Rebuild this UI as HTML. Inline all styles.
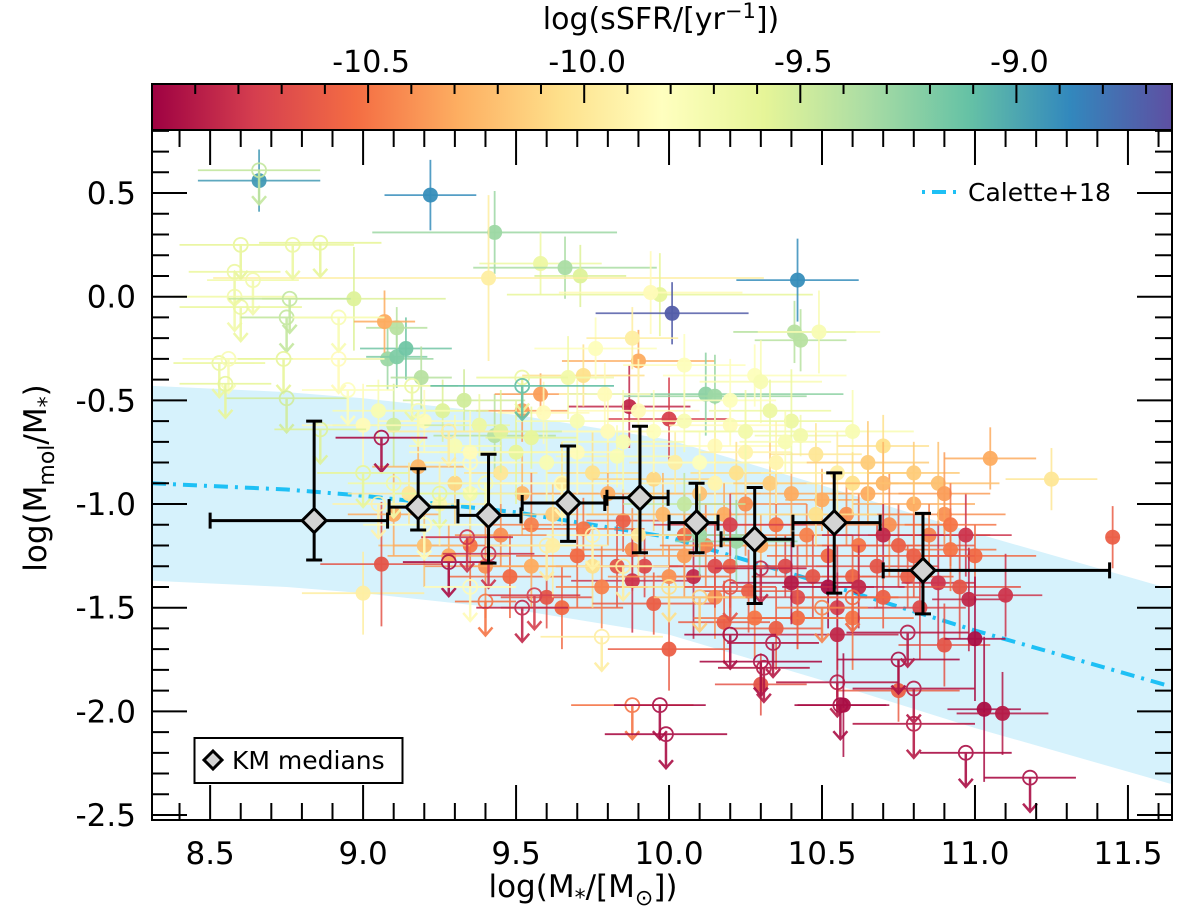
<!DOCTYPE html>
<html><head><meta charset="utf-8">
<style>
html,body{margin:0;padding:0;background:#fff;}
svg{display:block;font-family:"DejaVu Sans","Liberation Sans",sans-serif;}
</style></head>
<body>
<svg id="chart" width="1200" height="913" viewBox="0 0 1200 913" xmlns="http://www.w3.org/2000/svg">
<defs>
<linearGradient id="spectral" x1="0" x2="1" y1="0" y2="0">
<stop offset="0" stop-color="#9e0142"/><stop offset="0.1" stop-color="#d53e4f"/><stop offset="0.2" stop-color="#f46d43"/><stop offset="0.3" stop-color="#fdae61"/><stop offset="0.4" stop-color="#fee08b"/><stop offset="0.5" stop-color="#ffffbf"/><stop offset="0.6" stop-color="#e6f598"/><stop offset="0.7" stop-color="#abdda4"/><stop offset="0.8" stop-color="#66c2a5"/><stop offset="0.9" stop-color="#3288bd"/><stop offset="1" stop-color="#5e4fa2"/>
</linearGradient>
<clipPath id="plotclip"><rect x="152" y="130" width="1020" height="690"/></clipPath>
</defs>
<g id="cbar"></g>
<g id="plot"></g>
<g id="axes"></g>
</svg>
<script>
// ---- data ----
const detX = [8.66,9.22,9.43,9.58,9.66,9.71,9.41,9.97,9.94,10.01,10.42,10.41,10.43,10.49,9.9,8.97,9.08,9.11,9.14,9.11,9.07,9.19,9.43,9.52,9.58,9.87,10.0,10.12,10.15,9.72,9.76,9.88,10.05,10.28,10.3,10.33,9.67,9.59,9.79,9.83,10.2,10.43,10.48,10.6,10.7,11.05,11.25,11.45,10.15,9.33,9.26,9.2,9.38,9.1,9.05,9.0,
9.18,9.3,9.45,9.52,9.55,9.62,9.65,9.72,9.75,9.8,9.85,9.88,9.92,9.95,9.98,10.02,10.05,10.08,10.1,10.12,10.15,10.18,10.2,10.22,10.25,10.26,10.3,10.33,10.35,10.38,10.4,10.42,10.45,10.47,10.5,10.52,10.55,10.58,10.6,10.62,10.65,10.68,10.7,10.72,10.75,10.78,10.8,10.82,10.85,10.88,10.9,10.92,10.95,10.97,11.0,
10.75,10.9,10.98,11.0,11.03,11.09,11.1,10.57,10.55,10.52,10.3,10.0,10.18,9.88,9.83,9.65,9.6,9.48,9.4,9.35,9.28,9.2,9.0,9.06,9.1,9.15,9.25,9.35,9.5,9.6,9.7,9.85,9.95,10.1,10.25,10.35,10.4,10.55,10.6,10.65,10.7,10.8,10.88,10.9,10.05,10.1,10.22,9.62,9.75,9.9,10.0,10.15,10.28,10.42,10.6,10.35,10.48,10.15,9.78,9.95,9.55,9.45,9.7,10.05,10.2,10.4,10.62,10.7,10.92,10.8,
9.45,9.55,9.7,9.8,9.9,10.05,10.2,10.25,10.38,9.35,9.3];
const detY = [0.56,0.49,0.31,0.16,0.14,0.10,0.09,0.01,0.02,-0.08,0.08,-0.17,-0.21,-0.17,-0.31,-0.01,-0.30,-0.29,-0.25,-0.15,-0.12,-0.39,-0.67,-0.55,-0.47,-0.53,-0.59,-0.47,-0.48,-0.38,-0.25,-0.20,-0.33,-0.38,-0.41,-0.55,-0.39,-0.56,-0.47,-0.77,-0.62,-0.67,-0.76,-0.65,-0.72,-0.78,-0.88,-1.16,-0.72,-0.5,-0.55,-0.6,-0.62,-0.62,-0.55,-0.62,
-0.82,-0.9,-0.85,-0.95,-1.1,-1.05,-0.9,-1.12,-0.85,-0.95,-1.08,-1.22,-1.3,-0.88,-1.05,-0.8,-1.15,-1.35,-0.95,-1.2,-0.9,-1.05,-1.3,-0.85,-1.0,-1.42,-1.2,-0.9,-1.1,-1.3,-0.95,-1.45,-1.15,-1.35,-0.98,-1.25,-1.5,-1.05,-1.35,-1.2,-0.95,-1.3,-1.45,-1.1,-1.2,-1.35,-1.0,-1.5,-1.15,-1.38,-1.05,-1.22,-1.4,-1.15,-1.25,
-1.9,-1.68,-1.46,-1.65,-1.99,-2.01,-1.44,-1.97,-1.63,-1.4,-1.87,-1.7,-1.57,-1.37,-1.3,-1.5,-1.45,-1.35,-1.3,-1.2,-1.25,-1.2,-1.43,-1.29,-1.05,-0.95,-1.0,-0.95,-0.75,-0.8,-0.75,-0.7,-0.65,-0.8,-0.75,-0.8,-0.6,-0.85,-0.9,-0.8,-0.9,-0.85,-0.9,-0.95,-1.0,-1.15,-1.18,-1.2,-1.3,-1.15,-1.35,-1.45,-1.55,-1.55,-1.55,-1.6,-1.05,-1.3,-1.4,-1.48,-1.3,-1.15,-1.25,-1.25,-1.1,-1.38,-1.4,-1.15,-1.1,-1.25,
-0.65,-0.68,-0.6,-0.65,-0.55,-0.6,-0.5,-0.65,-0.7,-0.75,-0.72];
const detC = [-8.95,-8.9,-9.3,-9.65,-9.35,-9.55,-9.95,-9.6,-9.85,-8.7,-8.9,-9.4,-9.4,-9.75,-10.3,-9.55,-9.3,-9.2,-9.15,-9.4,-10.3,-9.4,-9.4,-10.35,-10.35,-10.85,-10.75,-9.25,-9.3,-10.05,-9.8,-9.95,-9.8,-9.8,-9.75,-9.65,-9.7,-9.85,-9.85,-9.75,-9.85,-9.7,-10.0,-9.75,-10.05,-10.3,-10.0,-10.6,-9.85,-9.5,-9.55,-9.85,-9.65,-9.5,-9.75,-9.85,
-10.25,-10.1,-10.0,-10.25,-10.45,-10.15,-10.0,-10.5,-10.05,-10.3,-10.6,-10.4,-10.7,-10.1,-10.25,-9.95,-10.55,-10.85,-10.2,-10.45,-9.9,-10.3,-10.6,-10.05,-10.4,-10.6,-10.3,-10.15,-10.5,-10.7,-10.3,-10.7,-10.45,-10.65,-10.3,-10.55,-10.75,-10.4,-10.6,-10.5,-10.3,-10.65,-10.6,-10.4,-10.6,-10.6,-10.3,-10.7,-10.45,-10.8,-10.4,-10.5,-10.65,-10.8,-10.55,
-10.6,-10.65,-10.85,-10.95,-10.95,-10.9,-10.8,-10.95,-10.85,-10.95,-10.65,-10.6,-10.6,-10.8,-10.65,-10.55,-10.65,-10.55,-10.4,-10.5,-10.3,-10.2,-9.95,-10.65,-10.3,-10.0,-9.9,-9.7,-9.6,-9.75,-9.85,-9.75,-9.8,-9.8,-9.9,-9.9,-9.65,-9.95,-10.05,-10.15,-10.25,-10.15,-10.2,-10.35,-9.45,-9.3,-9.3,-9.95,-10.05,-10.0,-10.4,-10.4,-10.5,-10.55,-10.5,-10.6,-10.05,-10.7,-10.45,-10.6,-10.3,-10.4,-10.55,-10.35,-10.75,-10.9,-10.85,-10.85,-10.5,-10.6,
-9.55,-9.6,-9.75,-9.85,-9.85,-9.75,-9.8,-9.7,-9.75,-9.85,-9.75];
const detXe = [0.2,0.15,0.4,0.2,0.3,0.15,0.9,0.5,0.3,0.25,0.2,0.2,0.15,0.2,0.25,0.3,0.15,0.1,0.15,0.1,0.1,0.1,0.2,0.15,0.15,0.2,0.2,0.45,0.3,0.2,0.2,0.15,0.2,0.3,0.2,0.2,0.15,0.15,0.15,0.2,0.2,0.15,0.15,0.2,0.15,0.15,0.15,0.02,0.25,0.2,0.15,0.15,0.1,0.2,0.15,0.2,
0.15,0.2,0.12,0.25,0.15,0.2,0.1,0.2,0.15,0.25,0.12,0.2,0.15,0.2,0.25,0.15,0.2,0.12,0.2,0.15,0.25,0.1,0.2,0.15,0.2,0.15,0.25,0.12,0.2,0.15,0.2,0.25,0.15,0.2,0.12,0.2,0.15,0.25,0.1,0.2,0.15,0.2,0.12,0.2,0.25,0.15,0.2,0.15,0.2,0.12,0.2,0.15,0.2,0.15,0.2,
0.2,0.15,0.12,0.1,0.12,0.15,0.12,0.15,0.2,0.15,0.15,0.2,0.15,0.2,0.2,0.2,0.15,0.2,0.2,0.25,0.2,0.15,0.2,0.2,0.15,0.2,0.15,0.2,0.25,0.2,0.15,0.2,0.25,0.2,0.15,0.2,0.2,0.25,0.15,0.2,0.2,0.15,0.2,0.15,0.2,0.15,0.2,0.15,0.2,0.15,0.2,0.15,0.2,0.15,0.2,0.15,0.2,0.2,0.15,0.2,0.2,0.15,0.2,0.15,0.25,0.2,0.15,0.2,0.15,0.2,
0.2,0.15,0.2,0.15,0.2,0.25,0.15,0.2,0.15,0.2,0.15];
const detYe = [0.15,0.17,0.2,0.15,0.15,0.15,0.4,0.2,0.2,0.15,0.2,0.15,0.15,0.2,0.15,0.25,0.15,0.15,0.15,0.1,0.15,0.15,0.2,0.15,0.1,0.2,0.2,0.2,0.2,0.15,0.15,0.15,0.15,0.15,0.2,0.15,0.2,0.15,0.15,0.15,0.1,0.1,0.15,0.2,0.15,0.15,0.15,0.15,0.2,0.15,0.15,0.15,0.15,0.2,0.15,0.2,
0.15,0.2,0.15,0.2,0.25,0.15,0.2,0.15,0.2,0.25,0.15,0.2,0.15,0.25,0.2,0.15,0.2,0.3,0.15,0.2,0.25,0.15,0.2,0.15,0.25,0.2,0.15,0.2,0.25,0.15,0.2,0.25,0.15,0.2,0.15,0.2,0.3,0.15,0.2,0.25,0.15,0.2,0.15,0.25,0.2,0.15,0.2,0.25,0.15,0.3,0.15,0.2,0.25,0.2,0.15,
0.15,0.2,0.25,0.3,0.35,0.2,0.2,0.25,0.3,0.2,0.15,0.2,0.2,0.25,0.2,0.2,0.15,0.2,0.25,0.2,0.15,0.2,0.2,0.3,0.2,0.15,0.2,0.2,0.25,0.2,0.2,0.25,0.2,0.15,0.2,0.2,0.25,0.2,0.15,0.2,0.2,0.15,0.2,0.2,0.15,0.2,0.2,0.25,0.2,0.2,0.15,0.2,0.2,0.15,0.25,0.2,0.15,0.2,0.2,0.15,0.2,0.15,0.25,0.2,0.15,0.2,0.2,0.15,0.2,0.2,
0.2,0.15,0.2,0.2,0.25,0.15,0.2,0.2,0.15,0.2,0.15];

const limX = [8.66,8.6,8.77,8.86,8.58,8.64,8.58,8.6,8.76,8.75,8.53,8.56,8.74,8.75,8.55,8.86,8.92,8.92,9.16,9.18,9.06,9.28,9.34,9.41,9.4,9.52,9.56,9.52,9.52,9.78,9.88,9.97,9.99,10.2,10.3,10.31,10.34,10.3,10.55,10.56,10.75,10.78,10.8,10.8,10.97,11.18,9.28,9.35,9.4,9.25,9.1,9.05,9.0,9.2,9.35,9.65,9.6,9.75,9.85,10.0,10.1,10.5,10.6,10.2,8.95];
const limY = [0.61,0.25,0.25,0.26,0.12,0.08,0.0,-0.05,-0.01,-0.1,-0.32,-0.3,-0.3,-0.49,-0.42,-0.64,-0.1,-0.3,-0.43,-0.55,-0.68,-1.28,-1.16,-1.24,-1.47,-1.5,-1.44,-0.39,-0.43,-1.64,-1.97,-1.97,-2.11,-1.63,-1.76,-1.79,-1.67,-1.31,-1.86,-1.97,-1.75,-1.62,-1.89,-2.06,-2.2,-2.32,-0.65,-0.8,-0.9,-0.95,-0.9,-1.0,-0.85,-1.1,-1.4,-0.9,-1.2,-1.15,-1.3,-1.4,-1.45,-1.5,-1.45,-1.4,-0.45];
const limC = [-9.45,-9.6,-9.65,-9.6,-9.65,-9.7,-9.7,-9.65,-9.45,-9.45,-9.65,-9.75,-9.6,-9.5,-9.6,-9.55,-9.75,-9.85,-9.65,-9.75,-10.95,-10.95,-10.8,-10.8,-10.5,-10.85,-10.75,-9.65,-9.1,-9.95,-10.5,-10.95,-10.95,-10.95,-10.95,-10.9,-10.9,-10.85,-10.9,-10.95,-10.95,-10.9,-10.9,-10.9,-10.95,-10.95,-9.95,-9.85,-9.75,-9.6,-9.7,-9.9,-9.6,-9.8,-9.85,-9.85,-9.95,-9.9,-9.95,-10.05,-10.15,-10.45,-10.55,-10.65,-9.8];
const limXe = [0.2,0.2,0.2,0.2,0.15,0.15,0.2,0.2,0.2,0.15,0.15,0.15,0.15,0.2,0.15,0.15,0.15,0.15,0.15,0.15,0.15,0.15,0.15,0.15,0.1,0.15,0.15,0.15,0.3,0.2,0.2,0.15,0.2,0.15,0.2,0.15,0.15,0.15,0.2,0.15,0.2,0.2,0.2,0.2,0.15,0.15,0.2,0.15,0.15,0.15,0.15,0.15,0.15,0.2,0.15,0.2,0.2,0.15,0.15,0.15,0.15,0.15,0.15,0.15,0.15];

const medX = [8.84,9.18,9.41,9.67,9.905,10.09,10.28,10.54,10.83];
const medY = [-1.08,-1.015,-1.055,-0.995,-0.97,-1.09,-1.17,-1.09,-1.32];
const medXlo = [8.5,9.085,9.31,9.52,9.797,10.0,10.17,10.405,10.70];
const medXhi = [9.08,9.31,9.516,9.79,9.997,10.16,10.405,10.69,11.44];
const medYlo = [-1.27,-1.125,-1.285,-1.18,-1.235,-1.235,-1.48,-1.43,-1.53];
const medYhi = [-0.6,-0.83,-0.76,-0.72,-0.625,-0.9,-0.92,-0.85,-1.045];

const calX = [8.31,8.75,9.0,9.5,10.0,10.5,11.0,11.64];
const calY = [-0.9,-0.93,-0.96,-1.04,-1.16,-1.38,-1.61,-1.88];
const calWidth = 0.47;

const xTicks = [8.5,9.0,9.5,10.0,10.5,11.0,11.5];
const xTickLabels = ["8.5","9.0","9.5","10.0","10.5","11.0","11.5"];
const yTicks = [0.5,0.0,-0.5,-1.0,-1.5,-2.0,-2.5];
const yTickLabels = ["0.5","0.0","-0.5","-1.0","-1.5","-2.0","-2.5"];
const cTicks = [-10.5,-10.0,-9.5,-9.0];
const cTickLabels = ["-10.5","-10.0","-9.5","-9.0"];

// ---- scales ----
const X0=152,X1=1172,Y0=130,Y1=820;
const xmin=8.31,xmax=11.644,ymin=-2.524,ymax=0.804;
const cmin=-11.0,cmax=-8.64;
const sx=v=>X0+(v-xmin)/(xmax-xmin)*(X1-X0);
const sy=v=>Y0+(ymax-v)/(ymax-ymin)*(Y1-Y0);
const sc=v=>X0+(v-cmin)/(cmax-cmin)*(X1-X0);
const stops=["#9e0142","#d53e4f","#f46d43","#fdae61","#fee08b","#ffffbf","#e6f598","#abdda4","#66c2a5","#3288bd","#5e4fa2"];
function hex(h){return [1,3,5].map(i=>parseInt(h.substr(i,2),16));}
function cmap(v){let t=(v-cmin)/(cmax-cmin);t=Math.max(0,Math.min(1,t))*10;const i=Math.min(9,Math.floor(t)),f=t-i;const a=hex(stops[i]),b=hex(stops[i+1]);return "rgb("+a.map((c,k)=>Math.round(c+(b[k]-c)*f)).join(",")+")";}
const NS="http://www.w3.org/2000/svg";
function mk(tag,attrs,parent){const e=document.createElementNS(NS,tag);for(const k in attrs)e.setAttribute(k,attrs[k]);parent.appendChild(e);return e;}

const cbar=document.getElementById('cbar'),plot=document.getElementById('plot'),axes=document.getElementById('axes');

// ---- colorbar ----
let r=mk('rect',{x:X0,y:84,width:X1-X0,height:46,fill:'url(#spectral)',stroke:'#000','stroke-width':2},cbar);


for(let v=-11.0;v<=-8.64;v+=0.1){const vv=Math.round(v*10)/10;const major=Math.abs(vv*2-Math.round(vv*2))<1e-6;const l=mk('line',{x1:sc(vv),x2:sc(vv),y1:84,y2:84+(major?19:10),stroke:'#000','stroke-width':2},cbar);

}
cTicks.forEach((v,i)=>{const t=mk('text',{x:sc(v)+3,y:72,'font-size':30,'text-anchor':'middle'},cbar);t.textContent=cTickLabels[i];

});
let ct=mk('text',{x:661,y:29,'font-size':30,'text-anchor':'middle'},cbar);
ct.innerHTML='log(sSFR/[yr<tspan dy="-11" font-size="21">−1</tspan><tspan dy="11">])</tspan>';



// ---- band + Calette line ----
const g=mk('g',{'clip-path':'url(#plotclip)'},plot);
let up=calX.map((x,i)=>sx(x)+','+sy(calY[i]+calWidth)).join(' ');
let lo=calX.map((x,i)=>sx(x)+','+sy(calY[i]-calWidth)).reverse().join(' ');
let band=mk('polygon',{points:up+' '+lo,fill:'#d6f2fc'},g);


let cl=mk('polyline',{points:calX.map((x,i)=>sx(x)+','+sy(calY[i])).join(' '),fill:'none',stroke:'#1ec0f5','stroke-width':4,'stroke-dasharray':'14,7,3,7'},g);



// ---- detections ----
detX.forEach((x,i)=>{const col=cmap(detC[i]);const gg=mk('g',{},g);


mk('line',{x1:sx(x-detXe[i]),x2:sx(x+detXe[i]),y1:sy(detY[i]),y2:sy(detY[i]),stroke:col,'stroke-width':1.8,opacity:0.85},gg);
mk('line',{x1:sx(x),x2:sx(x),y1:sy(detY[i]-detYe[i]),y2:sy(detY[i]+detYe[i]),stroke:col,'stroke-width':1.8,opacity:0.85},gg);
mk('circle',{cx:sx(x),cy:sy(detY[i]),r:7.5,fill:col,opacity:0.95},gg);});

// ---- upper limits ----
limX.forEach((x,i)=>{const col=cmap(limC[i]);const cx=sx(x),cy=sy(limY[i]);const gg=mk('g',{stroke:col,'stroke-width':1.8,fill:'none',opacity:0.9},g);


mk('line',{x1:sx(x-limXe[i]),x2:sx(x+limXe[i]),y1:cy,y2:cy},gg);
mk('circle',{cx:cx,cy:cy,r:7},gg);
mk('line',{x1:cx,x2:cx,y1:cy,y2:cy+34,'stroke-width':2.5},gg);
mk('polyline',{points:(cx-7)+','+(cy+26)+' '+cx+','+(cy+34)+' '+(cx+7)+','+(cy+26),'stroke-width':2.5},gg);});

// ---- KM medians ----
medX.forEach((x,i)=>{const gg=mk('g',{stroke:'#000','stroke-width':3,fill:'none'},plot);


const cx=sx(x),cy=sy(medY[i]),a=sx(medXlo[i]),b=sx(medXhi[i]),t=sy(medYhi[i]),u=sy(medYlo[i]);
mk('line',{x1:a,x2:b,y1:cy,y2:cy},gg);mk('line',{x1:a,x2:a,y1:cy-8,y2:cy+8},gg);mk('line',{x1:b,x2:b,y1:cy-8,y2:cy+8},gg);
mk('line',{x1:cx,x2:cx,y1:t,y2:u},gg);mk('line',{x1:cx-8,x2:cx+8,y1:t,y2:t},gg);mk('line',{x1:cx-8,x2:cx+8,y1:u,y2:u},gg);
mk('polygon',{points:`${cx},${cy-12} ${cx+12},${cy} ${cx},${cy+12} ${cx-12},${cy}`,fill:'#d3d3d3'},gg);});

// ---- axes frame and ticks ----
let fr=mk('rect',{x:X0,y:Y0,width:X1-X0,height:Y1-Y0,fill:'none',stroke:'#000','stroke-width':2},axes);


for(let k=84;k<=116;k++){const v=k/10;const major=k%5===0;const L=major?35:17;const px=sx(v);
mk('line',{x1:px,x2:px,y1:Y1,y2:Y1-L,stroke:'#000','stroke-width':2},axes);
mk('line',{x1:px,x2:px,y1:Y0,y2:Y0+L,stroke:'#000','stroke-width':2},axes);}
for(let k=-25;k<=8;k++){const v=k/10;const major=k%5===0;const L=major?35:17;const py=sy(v);
mk('line',{x1:X0,x2:X0+L,y1:py,y2:py,stroke:'#000','stroke-width':2},axes);
mk('line',{x1:X1,x2:X1-L,y1:py,y2:py,stroke:'#000','stroke-width':2},axes);}
xTicks.forEach((v,i)=>{const t=mk('text',{x:sx(v),y:864,'font-size':31,'text-anchor':'middle'},axes);t.textContent=xTickLabels[i];

});
yTicks.forEach((v,i)=>{const t=mk('text',{x:136,y:sy(v)+11,'font-size':31,'text-anchor':'end'},axes);t.textContent=yTickLabels[i];

});
let xl=mk('text',{x:583,y:897,'font-size':31,'text-anchor':'middle'},axes);
xl.innerHTML='log(M<tspan dy="8" font-size="22">*</tspan><tspan dy="-8">/[M</tspan><tspan dy="8" font-size="22">⊙</tspan><tspan dy="-8">])</tspan>';


let yl=mk('text',{x:0,y:0,'font-size':31,'text-anchor':'middle',transform:'translate(46,478) rotate(-90)'},axes);
yl.innerHTML='log(M<tspan dy="8" font-size="22">mol</tspan><tspan dy="-8">/M</tspan><tspan dy="8" font-size="22">*</tspan><tspan dy="-8">)</tspan>';



// ---- legends ----
const lg=mk('g',{},axes);


mk('line',{x1:922,x2:958,y1:192,y2:192,stroke:'#1ec0f5','stroke-width':4,'stroke-dasharray':'3,7,14,7'},lg);
let lt=mk('text',{x:968,y:201,'font-size':25},lg);lt.textContent='Calette+18';
const lk=mk('g',{},axes);


mk('rect',{x:194.5,y:738,width:208,height:45,fill:'#fff',stroke:'#000','stroke-width':2},lk);
mk('polygon',{points:'213,751 222,760 213,769 204,760',fill:'#d3d3d3',stroke:'#000','stroke-width':3},lk);
let kt=mk('text',{x:232,y:769,'font-size':25},lk);kt.textContent='KM medians';
</script>
</body></html>
